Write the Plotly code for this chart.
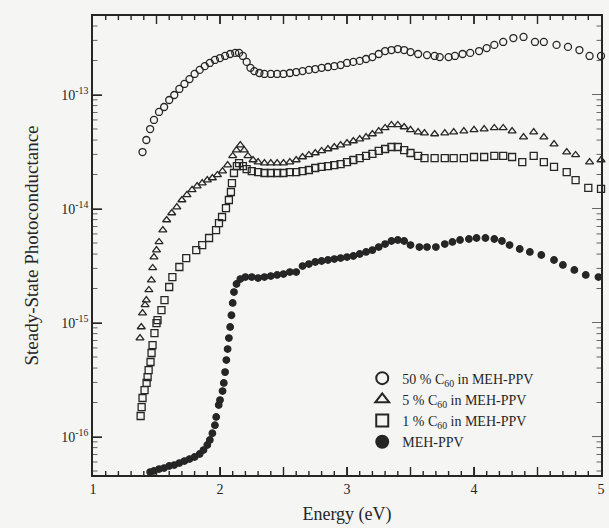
import math
import plotly.graph_objects as go

# ---- data (Energy in eV, photoconductance) ----
E50 = [1.39,1.42,1.45,1.48,1.52,1.56,1.60,1.64,1.68,1.72,1.76,1.80,1.84,1.88,1.92,1.96,2.00,2.04,2.08,2.12,
       2.15,2.18,2.21,2.24,2.27,2.31,2.35,
       2.40,2.45,2.50,2.55,2.60,2.65,2.70,2.75,2.80,2.85,2.90,2.95,3.00,3.05,3.10,3.15,3.20,3.25,3.30,3.35,3.40,3.45,3.50,
       3.56,
       3.63,3.69,3.73,3.80,3.85,3.91,3.97,4.04,4.10,4.16,4.23,4.31,4.39,4.48,4.55,4.65,4.74,4.83,4.91,5.00]
V50 = [3.16e-14,4.03e-14,5.03e-14,6.04e-14,7.10e-14,7.85e-14,9.04e-14,1.00e-13,1.13e-13,1.25e-13,1.38e-13,1.53e-13,1.66e-13,1.79e-13,1.91e-13,2.03e-13,2.11e-13,2.20e-13,2.29e-13,2.34e-13,
       2.34e-13,2.20e-13,1.95e-13,1.73e-13,1.62e-13,1.56e-13,1.53e-13,
       1.53e-13,1.53e-13,1.53e-13,1.56e-13,1.59e-13,1.62e-13,1.66e-13,1.69e-13,1.73e-13,1.76e-13,1.79e-13,1.83e-13,1.91e-13,1.95e-13,1.99e-13,2.07e-13,2.15e-13,2.29e-13,2.43e-13,2.48e-13,2.53e-13,2.48e-13,2.38e-13,
       2.29e-13,
       2.24e-13,2.20e-13,2.15e-13,2.15e-13,2.20e-13,2.29e-13,2.34e-13,2.43e-13,2.58e-13,2.75e-13,2.92e-13,3.16e-13,3.23e-13,2.92e-13,2.92e-13,2.75e-13,2.64e-13,2.48e-13,2.20e-13,2.20e-13]

E5 = [1.37,1.38,1.39,1.41,1.42,1.44,1.46,1.47,1.48,1.50,1.52,
      1.55,1.58,1.62,1.66,1.70,1.74,1.78,1.82,1.86,1.90,1.94,1.98,2.02,2.06,2.10,
      2.13,2.16,2.19,2.22,2.26,2.30,
      2.35,2.40,2.45,2.50,2.55,2.60,2.65,2.70,2.75,2.80,2.85,2.90,2.95,3.00,3.05,3.10,3.15,3.20,3.25,3.30,3.35,3.40,3.45,3.50,
      3.56,3.61,
      3.69,3.77,3.84,3.92,4.00,4.08,4.16,4.23,4.30,4.39,4.47,4.55,4.63,4.73,4.80,4.91,5.00]
V5 = [7.38e-16,9.23e-16,1.22e-15,1.44e-15,1.59e-15,1.95e-15,2.38e-15,3.04e-15,3.79e-15,4.36e-15,5.14e-15,
      6.54e-15,8.01e-15,9.23e-15,1.04e-14,1.20e-14,1.33e-14,1.47e-14,1.59e-14,1.69e-14,1.79e-14,1.87e-14,1.99e-14,2.15e-14,2.43e-14,2.92e-14,
      3.29e-14,3.64e-14,3.29e-14,2.92e-14,2.69e-14,2.58e-14,
      2.53e-14,2.53e-14,2.53e-14,2.53e-14,2.58e-14,2.69e-14,2.86e-14,2.98e-14,3.10e-14,3.23e-14,3.36e-14,3.50e-14,3.64e-14,3.79e-14,3.95e-14,4.11e-14,4.28e-14,4.55e-14,4.83e-14,5.14e-14,5.46e-14,5.46e-14,5.24e-14,4.94e-14,
      4.73e-14,4.64e-14,
      4.55e-14,4.64e-14,4.73e-14,4.83e-14,4.94e-14,5.03e-14,5.14e-14,5.14e-14,4.83e-14,4.28e-14,4.73e-14,4.28e-14,3.71e-14,3.16e-14,2.98e-14,2.58e-14,2.69e-14]

E1 = [1.375,1.383,1.39,1.406,1.422,1.43,1.438,1.453,1.461,1.469,
      1.484,1.50,1.508,1.539,1.563,1.60,1.625,1.68,1.734,1.813,
      1.86,1.914,1.969,1.992,2.016,2.047,2.07,2.086,2.094,2.11,
      2.133,2.15,2.18,2.21,2.25,
      2.30,2.35,2.40,2.45,2.50,2.55,2.60,2.65,2.70,2.75,2.80,2.85,2.90,2.95,3.00,3.05,3.10,3.15,3.20,3.25,3.30,3.35,3.40,3.45,3.50,
      3.56,3.61,
      3.69,3.77,3.84,3.92,4.00,4.08,4.16,4.23,4.30,4.38,4.47,4.55,4.63,4.73,4.80,4.90,5.00]
V1 = [1.53e-16,1.83e-16,2.20e-16,2.58e-16,2.98e-16,3.36e-16,3.87e-16,4.55e-16,5.46e-16,6.41e-16,
      8.17e-16,1.00e-15,1.06e-15,1.30e-15,1.59e-15,2.07e-15,2.53e-15,3.10e-15,3.71e-15,4.36e-15,
      4.83e-15,5.57e-15,6.54e-15,7.53e-15,8.51e-15,1.02e-14,1.20e-14,1.41e-14,1.69e-14,2.07e-14,
      2.38e-14,2.53e-14,2.38e-14,2.24e-14,2.15e-14,
      2.11e-14,2.07e-14,2.07e-14,2.07e-14,2.07e-14,2.11e-14,2.11e-14,2.15e-14,2.20e-14,2.29e-14,2.34e-14,2.38e-14,2.43e-14,2.48e-14,2.58e-14,2.69e-14,2.80e-14,2.92e-14,3.04e-14,3.23e-14,3.36e-14,3.50e-14,3.50e-14,3.29e-14,3.10e-14,
      2.92e-14,2.80e-14,
      2.80e-14,2.80e-14,2.80e-14,2.80e-14,2.86e-14,2.86e-14,2.92e-14,2.92e-14,2.86e-14,2.58e-14,2.92e-14,2.58e-14,2.34e-14,2.11e-14,1.79e-14,1.53e-14,1.50e-14]

E0 = [1.45,1.48,1.52,1.56,1.60,1.64,1.68,1.72,1.76,1.80,1.84,1.87,1.90,1.92,1.94,1.96,1.97,1.99,2.00,2.02,
      2.03,2.04,2.05,2.06,2.07,2.08,2.09,2.10,2.11,2.13,2.16,2.20,2.25,2.30,2.35,2.40,2.45,2.50,2.55,2.60,
      2.65,2.70,2.75,2.80,2.85,2.90,2.95,3.00,3.05,3.10,3.15,3.20,3.25,3.30,3.35,3.40,3.45,3.50,
      3.57,3.63,3.70,3.77,3.83,3.89,3.96,4.02,4.09,4.16,4.22,4.28,4.36,4.44,4.53,4.63,4.70,4.79,4.88,4.98]
V0 = [4.93e-17,5.04e-17,5.24e-17,5.34e-17,5.57e-17,5.68e-17,5.91e-17,6.15e-17,6.41e-17,6.68e-17,7.10e-17,7.69e-17,8.51e-17,9.42e-17,1.08e-16,1.27e-16,1.50e-16,1.91e-16,2.11e-16,2.53e-16,
      2.98e-16,3.71e-16,4.73e-16,5.91e-16,7.38e-16,9.23e-16,1.17e-15,1.50e-15,1.87e-15,2.20e-15,2.43e-15,2.53e-15,2.53e-15,2.48e-15,2.53e-15,2.58e-15,2.64e-15,2.69e-15,2.80e-15,2.80e-15,
      3.16e-15,3.29e-15,3.43e-15,3.50e-15,3.57e-15,3.64e-15,3.71e-15,3.79e-15,3.87e-15,4.03e-15,4.20e-15,4.36e-15,4.64e-15,4.93e-15,5.24e-15,5.35e-15,5.24e-15,4.83e-15,
      4.64e-15,4.64e-15,4.64e-15,4.93e-15,5.14e-15,5.35e-15,5.46e-15,5.57e-15,5.57e-15,5.46e-15,5.24e-15,4.83e-15,4.46e-15,4.20e-15,3.95e-15,3.57e-15,3.23e-15,2.92e-15,2.64e-15,2.53e-15]

NAMES = ["50 % C<sub>60</sub> in MEH-PPV", "5 % C<sub>60</sub> in MEH-PPV",
         "1 % C<sub>60</sub> in MEH-PPV", "MEH-PPV"]
X_RANGE = [1, 5]
Y_RANGE_LOG = [-16.333, -12.307]
X_LABELS = [1, 2, 3, 4, 5]
X_MAJOR = [1.5, 2, 2.5, 3, 3.5, 4, 4.5]
X_MINOR = [round(1 + 0.1 * i, 1) for i in range(1, 40) if i % 5 != 0]
Y_DECADES = [-16, -15, -14, -13]
Y_LABELS = ["10<sup>-16</sup>", "10<sup>-15</sup>", "10<sup>-14</sup>", "10<sup>-13</sup>"]
Y_MAJOR = [10.0 ** d for d in Y_DECADES]
Y_MINOR = [m * 10.0 ** d for d in [-17] + Y_DECADES for m in range(2, 10)
           if Y_RANGE_LOG[0] < d + math.log10(m) < Y_RANGE_LOG[1]]

INK = "#262626"
BG = "#f5f5f3"
FONT = "Liberation Serif, Times New Roman, serif"

series = [
    (E50, V50, NAMES[0], "circle-open", 7),
    (E5, V5, NAMES[1], "triangle-up-open", 7),
    (E1, V1, NAMES[2], "square-open", 7),
    (E0, V0, NAMES[3], "circle", 6.5),
]

fig = go.Figure()
for ex, vy, nm, sym, sz in series:
    fig.add_trace(go.Scatter(
        x=ex, y=vy, name=nm, mode="markers", cliponaxis=False,
        marker=dict(symbol=sym, size=sz, color=INK, line=dict(color=INK, width=1.3)),
    ))

# inward tick marks drawn as thin filled bars (axis-scale position, pixel size)
HALF_W = 0.7
def x_tick(xv, length):
    for anchor, sgn in ((0, 1), (1, -1)):
        fig.add_shape(type="rect", layer="above",
                      xref="x", xsizemode="pixel", xanchor=xv, x0=-HALF_W, x1=HALF_W,
                      yref="paper", ysizemode="pixel", yanchor=anchor, y0=0, y1=sgn * length,
                      fillcolor=INK, line=dict(width=0))

def y_tick(yv, length):
    for anchor, sgn in ((0, 1), (1, -1)):
        fig.add_shape(type="rect", layer="above",
                      yref="y", ysizemode="pixel", yanchor=yv, y0=-HALF_W, y1=HALF_W,
                      xref="paper", xsizemode="pixel", xanchor=anchor, x0=0, x1=sgn * length,
                      fillcolor=INK, line=dict(width=0))

for xv in X_LABELS[1:-1] + X_MAJOR:
    x_tick(xv, 8)
for xv in X_MINOR:
    x_tick(xv, 4)
for yv in Y_MAJOR:
    y_tick(yv, 9)
for yv in Y_MINOR:
    y_tick(yv, 4.5)

fig.update_xaxes(
    range=X_RANGE, tickmode="array", tickvals=X_LABELS, ticktext=[str(v) for v in X_LABELS],
    showline=True, linecolor=INK, linewidth=1.6, mirror=True,
    ticks="inside", ticklen=8, tickwidth=1.3, tickcolor=INK,
    showgrid=False, zeroline=False,
    tickfont=dict(family=FONT, size=14, color=INK),
    title=dict(text="Energy (eV)", font=dict(family=FONT, size=18, color=INK), standoff=12),
)
fig.update_yaxes(
    type="log", range=Y_RANGE_LOG, tickmode="array", tickvals=Y_MAJOR, ticktext=Y_LABELS,
    showline=True, linecolor=INK, linewidth=1.6, mirror=True,
    ticks="inside", ticklen=9, tickwidth=1.3, tickcolor=INK,
    showgrid=False, zeroline=False,
    tickfont=dict(family=FONT, size=14, color=INK),
    title=dict(text="Steady-State Photoconductance", font=dict(family=FONT, size=19, color=INK), standoff=18),
)

fig.update_layout(
    width=609, height=528,
    margin=dict(l=93, r=4, t=16, b=53),
    paper_bgcolor=BG, plot_bgcolor=BG,
    font=dict(family=FONT, color=INK),
    showlegend=True,
    legend=dict(x=0.53, y=0.245, xanchor="left", yanchor="top",
                bgcolor="rgba(0,0,0,0)", font=dict(family=FONT, size=14, color=INK),
                tracegroupgap=0, itemsizing="constant"),
)

fig.write_html("out.html")
